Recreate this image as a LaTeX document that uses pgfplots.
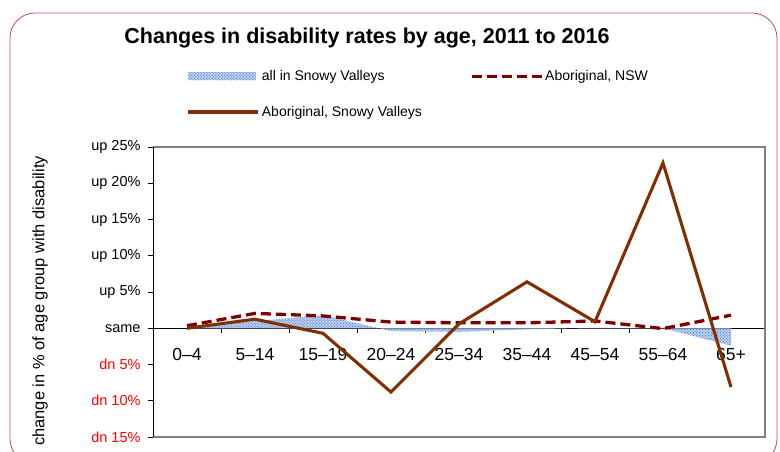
\documentclass[border=0pt]{standalone}
\usepackage{pgfplots}
\pgfplotsset{compat=1.18}
\usetikzlibrary{patterns}
\usepackage{fontspec}
\setmainfont{Liberation Sans}
\definecolor{nswred}{RGB}{128,0,0}
\definecolor{svbrown}{RGB}{128,48,0}
\definecolor{frameclr}{RGB}{192,80,77}
\definecolor{areablue}{RGB}{60,110,200}
\definecolor{arealight}{RGB}{185,205,238}
\definecolor{boxgray}{RGB}{128,128,128}
\pgfplotsset{
  longline/.style={legend image code/.code={\draw[##1] (0bp,0bp) -- (70bp,0bp);}},
  longarea/.style={legend image code/.code={\path[##1] (0bp,-4bp) rectangle (68bp,4bp);}},
}
\begin{document}
\begin{tikzpicture}
\useasboundingbox (0,0) rectangle (780bp,452bp);
\draw[frameclr, line width=0.8bp, rounded corners=25bp] (10bp,-12bp) rectangle (777bp,439bp);
\node[font=\bfseries\fontsize{21.5bp}{24bp}\selectfont] at (367bp,414bp) {Changes in disability rates by age, 2011 to 2016};
\node[rotate=90, font=\fontsize{16.5bp}{20bp}\selectfont] at (40bp,151bp) {change in \% of age group with disability};
\begin{axis}[
  at={(153bp,15bp)}, anchor=south west,
  scale only axis, width=612bp, height=290bp,
  xmin=-0.5, xmax=8.5, ymin=-15, ymax=25,
  clip=false,
  axis x line=middle, axis y line=left,
  axis line style={-, black, line width=0.8bp},
  xtick={0,...,8},
  xticklabels={0--4,5--14,15--19,20--24,25--34,35--44,45--54,55--64,65+},
  major x tick style={draw=none},
  minor xtick={0.5,1.5,...,8.5},
  minor x tick style={black, line width=0.6bp},
  minor tick length=5bp,
  major tick length=5bp,
  tick align=outside,
  xticklabel style={font=\fontsize{17.5bp}{20bp}\selectfont, yshift=-12bp},
  ytick={-15,-10,...,25},
  yticklabels={\textcolor{red}{dn 15\%},\textcolor{red}{dn 10\%},\textcolor{red}{dn 5\%},same,up 5\%,up 10\%,up 15\%,up 20\%,up 25\%},
  yticklabel style={font=\fontsize{14.5bp}{16bp}\selectfont, xshift=-4bp},
  y tick style={black, line width=0.6bp},
  legend columns=2,
  legend cell align=left,
  legend style={draw=none, fill=none, at={(axis description cs:0.05,1.278)}, anchor=north west,
    font=\fontsize{14bp}{16bp}\selectfont, row sep=20bp,
    /tikz/every even column/.append style={column sep=46bp}},
]
\addplot[draw=none, fill=arealight, postaction={pattern=crosshatch dots, pattern color=areablue}, longarea]
  coordinates {(0,0) (1,1.0) (2,1.8) (3,-0.4) (4,-0.5) (5,-0.15) (6,0.05) (7,0) (8,-2.4)} \closedcycle;
\addlegendentry{all in Snowy Valleys}
\addplot[nswred, line width=3.3bp, dash pattern=on 10bp off 5bp, longline]
  coordinates {(0,0.35) (1,2.05) (2,1.7) (3,0.85) (4,0.75) (5,0.75) (6,1.0) (7,-0.05) (8,1.8)};
\addlegendentry{Aboriginal, NSW}
\addplot[svbrown, line width=3.1bp, longline]
  coordinates {(0,0) (1,1.25) (2,-0.7) (3,-8.8) (4,0.6) (5,6.4) (6,0.9) (7,22.8) (8,-8.1)};
\addlegendentry{Aboriginal, Snowy Valleys}
\draw[boxgray, line width=2.5bp] (rel axis cs:0,1) -- (rel axis cs:1,1) -- (rel axis cs:1,0) -- (rel axis cs:0,0);
\draw[black, line width=0.8bp] (rel axis cs:0,0) -- (rel axis cs:0,1);
\end{axis}
\end{tikzpicture}
\end{document}
